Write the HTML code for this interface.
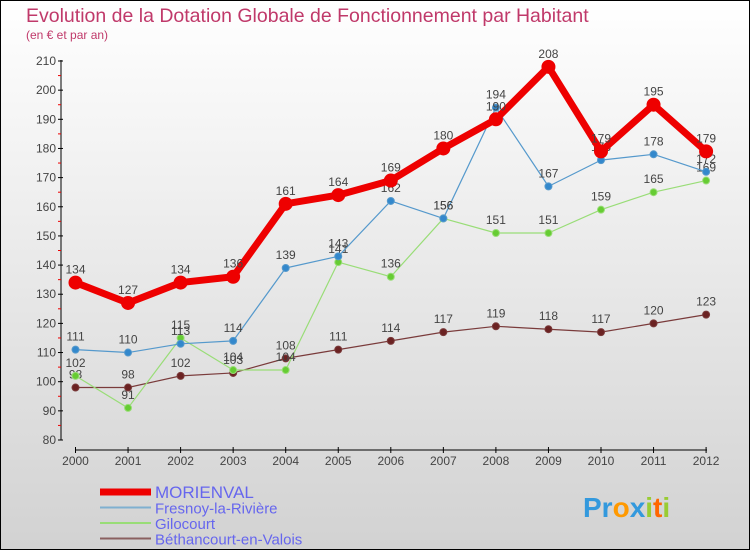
<!DOCTYPE html>
<html><head><meta charset="utf-8"><style>
body{margin:0;width:750px;height:550px;overflow:hidden;font-family:"Liberation Sans",sans-serif}
svg{display:block}
</style></head><body>
<svg width="750" height="550">
<defs><linearGradient id="bg" x1="0" y1="0" x2="0" y2="1"><stop offset="0" stop-color="#ffffff"/><stop offset="1" stop-color="#d2d2d2"/></linearGradient></defs>
<rect x="0.5" y="0.5" width="749" height="549" fill="url(#bg)" stroke="#000"/>
<text x="26" y="22" font-size="19.5" fill="#c0396a">Evolution de la Dotation Globale de Fonctionnement par Habitant</text>
<text x="26" y="39" font-size="12" fill="#c0396a">(en € et par an)</text>
<g id="axes"></g><g id="series"></g><g id="legend"></g>
<text x="583" y="517" font-size="28" font-weight="bold" fill="#3399dd">Pr<tspan fill="#ff9900">o</tspan><tspan fill="#3399dd">x</tspan><tspan fill="#99cc33">i</tspan><tspan fill="#ff6600">t</tspan><tspan fill="#99cc33">i</tspan></text>
</svg>
<script>
const years=[2000,2001,2002,2003,2004,2005,2006,2007,2008,2009,2010,2011,2012];
const yTicks=[80,90,100,110,120,130,140,150,160,170,180,190,200,210];
const morienval=[134,127,134,136,161,164,169,180,190,208,179,195,179];
const fresnoy=[111,110,113,114,139,143,162,156,194,167,176,178,172];
const gilocourt=[102,91,115,104,104,141,136,156,151,151,159,165,169];
const bethancourt=[98,98,102,103,108,111,114,117,119,118,117,120,123];
const NS="http://www.w3.org/2000/svg";
const X=i=>75.5+i*52.55;
const Y=v=>440-(v-80)*(379/130);
function mk(tag,attrs,parent,text){const e=document.createElementNS(NS,tag);for(const k in attrs)e.setAttribute(k,attrs[k]);if(text!==undefined)e.textContent=text;parent.appendChild(e);return e;}
const axes=document.getElementById('axes');
let yl=mk('line',{x1:61,y1:Y(210)-1,x2:61,y2:Y(80),stroke:'#000'},axes);


yTicks.forEach(v=>{
  mk('line',{x1:58,x2:63,y1:Y(v),y2:Y(v),stroke:'#000'},axes);
  if(v<210) mk('line',{x1:58,x2:61,y1:Y(v+5),y2:Y(v+5),stroke:'#e00'},axes);
  const t=mk('text',{x:56,y:Y(v)+4,'text-anchor':'end','font-size':12,fill:'#444'},axes,v);
  
  
});
let xl=mk('line',{x1:75,y1:450,x2:707,y2:450,stroke:'#000'},axes);


years.forEach((yr,i)=>{
  mk('line',{x1:X(i),x2:X(i),y1:447,y2:453,stroke:'#000'},axes);
  const t=mk('text',{x:X(i),y:465,'text-anchor':'middle','font-size':12,fill:'#444'},axes,yr);
  
  
});
const sg=document.getElementById('series');
function draw(vals,color,w,r,fill,name){
  const g=mk('g',{},sg);
  
  
  const p=mk('polyline',{points:vals.map((v,i)=>X(i)+','+Y(v)).join(' '),fill:'none',stroke:color,'stroke-width':w,'stroke-linejoin':'round'},g);
  
  vals.forEach((v,i)=>{
    const c=mk('circle',{cx:X(i),cy:Y(v),r:r,fill:fill,stroke:color,'stroke-width':1},g);
    
    
    const t=mk('text',{x:X(i),y:Y(v)-9,'text-anchor':'middle','font-size':12,fill:'#444'},g,v);
    
    
  });
}
draw(bethancourt,'#7a3b3b',1.2,3.5,'#6b2222','bethancourt');
draw(gilocourt,'#99dd77',1.2,3.5,'#66cc33','gilocourt');
draw(fresnoy,'#5599cc',1.2,3.5,'#3388cc','fresnoy');
draw(morienval,'#ee0000',7,6.5,'#ee0000','morienval');
const lg=document.getElementById('legend');
const items=[['MORIENVAL','#ee0000',7,17],['Fresnoy-la-Rivière','#7fb0d0',2,15],['Gilocourt','#99dd77',2,15],['Béthancourt-en-Valois','#8a6060',2,15]];
items.forEach((it,k)=>{
  const y=492+k*15.5;
  const l=mk('line',{x1:100,x2:151,y1:y,y2:y,stroke:it[1],'stroke-width':it[2]},lg);
  
  
  const t=mk('text',{x:155,y:y+6,'font-size':it[3],fill:'#6666ee'},lg,it[0]);
  
  
});
</script>
</body></html>
